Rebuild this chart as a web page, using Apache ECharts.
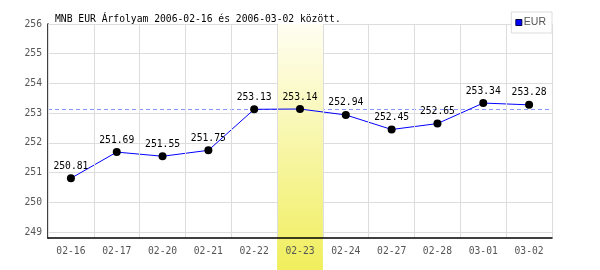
<!DOCTYPE html>
<html><head><meta charset="utf-8">
<script src="https://cdn.jsdelivr.net/npm/echarts@6/dist/echarts.min.js"></script>
<style>html,body{margin:0;padding:0;background:#fff}#c{width:600px;height:270px}</style>
</head><body><div id="c"></div>
<script>
const categories = ['02-16','02-17','02-20','02-21','02-22','02-23','02-24','02-27','02-28','03-01','03-02'];
const eurValues = [250.81,251.69,251.55,251.75,253.13,253.14,252.94,252.45,252.65,253.34,253.28];
const yTicks = [249,250,251,252,253,254,255,256];
const highlightDay = '02-23';
const refValue = 253.14;
const titleText = 'MNB EUR Árfolyam 2006-02-16 és 2006-03-02 között.';
const mono = 'DejaVu Sans Mono';

const chart = echarts.init(document.getElementById('c'), null, {renderer:'canvas'});
chart.setOption({
  animation:false,
  title:{text:titleText,left:50,top:9,textStyle:{fontFamily:mono,fontSize:9.7,fontWeight:'normal',color:'#000'}},
  legend:{data:[{name:'EUR',itemStyle:{color:'#0000ff',borderColor:'#000044',borderWidth:1}}],right:48,top:12,icon:'rect',itemWidth:6,itemHeight:6,itemGap:2,padding:[5,6,5,4],
    borderColor:'#ddd',borderWidth:1,backgroundColor:'#fff',
    textStyle:{fontFamily:'Liberation Sans',fontSize:10.5,color:'#555',padding:[0,0,0,-3]}},
  grid:{left:48,right:48,top:24,bottom:32},
  xAxis:{type:'category',data:categories,boundaryGap:true,z:5,
    axisLine:{lineStyle:{color:'#000',width:1.5}},axisTick:{show:false},
    axisLabel:{fontFamily:mono,fontSize:9.7,color:'#555',margin:8},
    splitLine:{show:true,lineStyle:{color:'#ddd',width:1}}},
  yAxis:{type:'value',min:248.8,max:256,
    axisLine:{show:true,lineStyle:{color:'#000',width:1.5}},
    axisTick:{show:false,customValues:yTicks},
    axisLabel:{customValues:yTicks,fontFamily:mono,fontSize:9.7,color:'#555',margin:6},
    splitLine:{show:true,lineStyle:{color:'#ddd',width:1}}},
  series:[
    {name:'EUR',type:'line',data:eurValues,z:3,color:'#0000ff',
      lineStyle:{color:'#0000ff',width:1},
      symbol:'circle',symbolSize:8,itemStyle:{color:'#000'},
      label:{show:true,position:'top',distance:3,fontFamily:mono,fontSize:9.7,color:'#000'}}
  ]
});
const cx = chart.convertToPixel({xAxisIndex:0}, highlightDay);
const step = chart.convertToPixel({xAxisIndex:0}, categories[1]) - chart.convertToPixel({xAxisIndex:0}, categories[0]);
const topY = chart.convertToPixel({yAxisIndex:0}, 256);
const refY = Math.round(chart.convertToPixel({yAxisIndex:0}, refValue)) + 0.5;
const x0 = chart.convertToPixel({xAxisIndex:0}, categories[0]) - step/2;
const x1 = chart.convertToPixel({xAxisIndex:0}, categories[categories.length-1]) + step/2;
chart.setOption({graphic:[
  {type:'line',z:1,silent:true,shape:{x1:x0,y1:refY,x2:x1,y2:refY},
    style:{stroke:'#8a96ff',lineWidth:1,lineDash:[4,3]}},
  {type:'rect',z:2,silent:true,
  shape:{x:cx-step/2,y:topY,width:step,height:270-topY},
  style:{fill:new echarts.graphic.LinearGradient(0,0,0,1,[{offset:0,color:'#fffef2'},{offset:1,color:'#f0ee5c'}])}}]});
</script></body></html>
